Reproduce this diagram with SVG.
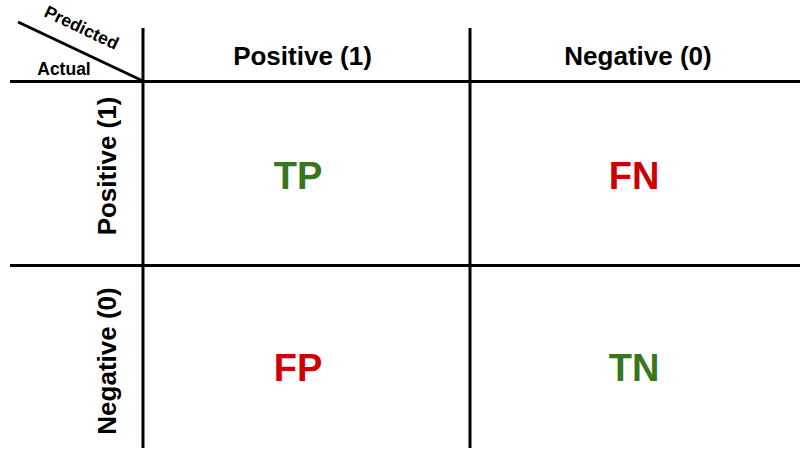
<svg xmlns="http://www.w3.org/2000/svg" width="802" height="462" viewBox="0 0 802 462">
<style>
.ln{stroke:#000;stroke-width:3;fill:none}
.hd{font-family:"Liberation Sans",Arial,sans-serif;font-weight:bold;font-size:26px;fill:#000;text-anchor:middle}
.sm{font-family:"Liberation Sans",Arial,sans-serif;font-weight:bold;font-size:17.5px;fill:#000;text-anchor:middle}
.cell{font-family:"Liberation Sans",Arial,sans-serif;font-weight:bold;font-size:38px;text-anchor:middle}
.g{fill:#38761d}
.r{fill:#cc0000}
</style>
<rect width="802" height="462" fill="#fff"/>
<g id="grid">
<line class="ln" x1="10" y1="81.5" x2="800" y2="81.5"/>
<line class="ln" x1="10" y1="265.5" x2="800" y2="265.5"/>
<line class="ln" x1="143" y1="28" x2="143" y2="448"/>
<line class="ln" x1="470" y1="28" x2="470" y2="448"/>
<line class="ln" x1="18" y1="22" x2="143" y2="81"/>
</g>
<g id="corner">
<text class="sm" transform="translate(79,33) rotate(25.3)">Predicted</text>
<text class="sm" x="64" y="75">Actual</text>
</g>
<g id="col-pos"><text class="hd" x="302.5" y="65">Positive (1)</text></g>
<g id="col-neg"><text class="hd" x="638" y="65">Negative (0)</text></g>
<g id="row-pos"><text class="hd" transform="translate(116,166) rotate(-90)">Positive (1)</text></g>
<g id="row-neg"><text class="hd" transform="translate(116,361) rotate(-90)">Negative (0)</text></g>
<g id="tp"><text class="cell g" x="298" y="189">TP</text></g>
<g id="fn"><text class="cell r" x="634" y="189">FN</text></g>
<g id="fp"><text class="cell r" x="298" y="381">FP</text></g>
<g id="tn"><text class="cell g" x="634" y="381">TN</text></g>
</svg>
